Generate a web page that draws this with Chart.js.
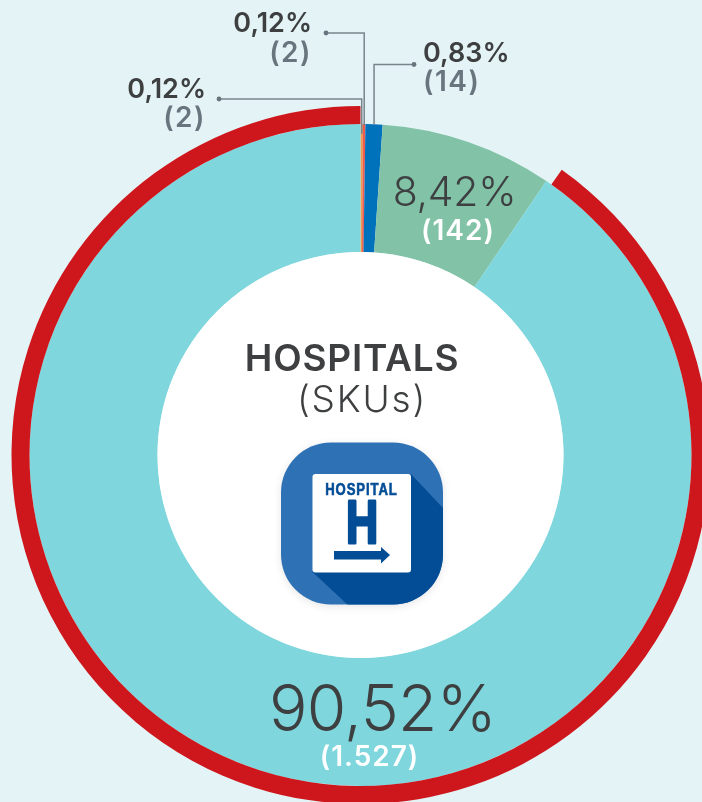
<!DOCTYPE html>
<html><head><meta charset="utf-8">
<style>html,body{margin:0;padding:0;background:#E4F3F5;overflow:hidden;width:702px;height:802px}canvas{display:block}</style>
<script src="https://cdn.jsdelivr.net/npm/chart.js@4"></script></head>
<body><canvas id="c" width="720" height="810"></canvas>
<script>
const categories=['a','b','c','d','e'];
const skus=[2,2,14,142,1527];
const sliceColors=['#F0984F','#EF5B4C','#0072BC','#82C3A8','#7FD7DD'];
const pctLabels=['0,12%','0,12%','0,83%','8,42%','90,52%'];
const countLabels=['(2)','(2)','(14)','(142)','(1.527)'];
const highlight=[165,1522];
const highlightColors=['rgba(0,0,0,0)','#CE171C'];
const title='HOSPITALS', subtitle='(SKUs)', iconWord='HOSPITAL', iconLetter='H';
const FONT='Inter, "Open Sans", sans-serif';
const DARK='#3D3F40', GREY='#68757E', LINE='#78858C', NAVY='#034D96';

function txt(ctx,s,x,y,font,color,align,spacing){
  ctx.font=font;ctx.fillStyle=color;ctx.textAlign=align;ctx.textBaseline='alphabetic';
  ctx.letterSpacing=(spacing||0)+'px';ctx.fillText(s,x,y);ctx.letterSpacing='0px';
}
function rr(ctx,x,y,w,h,r){ctx.beginPath();ctx.roundRect(x,y,w,h,r);}
const art={id:'art',
 afterDatasetsDraw(chart){
  const ctx=chart.ctx, arcs=chart.getDatasetMeta(1).data;
  const cx=arcs[0].x, cy=arcs[0].y, R=arcs[0].outerRadius, r0=arcs[0].innerRadius;
  ctx.save();
  ctx.fillStyle='#fff';ctx.beginPath();ctx.arc(cx,cy,r0,0,Math.PI*2);ctx.fill();
  const leader=(i,dotX,y,endY)=>{
    const a=(arcs[i].startAngle+arcs[i].endAngle)/2;
    const x=cx+R*Math.cos(a);
    ctx.strokeStyle=LINE;ctx.lineWidth=1.5;ctx.beginPath();
    ctx.moveTo(dotX,y);ctx.lineTo(x,y);ctx.lineTo(x,endY);ctx.stroke();
    ctx.fillStyle='#68757E';ctx.beginPath();ctx.arc(dotX,y,2.4,0,Math.PI*2);ctx.fill();
  };
  leader(0,219,99,134);
  leader(1,326,33,125);
  leader(2,414,64.5,125);
  const bold='600 27px '+FONT, cnt='600 28px '+FONT;
  txt(ctx,pctLabels[0],206,98,bold,DARK,'right',0);
  txt(ctx,countLabels[0],206,127,cnt,GREY,'right',1.5);
  txt(ctx,pctLabels[1],312,32,bold,DARK,'right',0);
  txt(ctx,countLabels[1],312,62,cnt,GREY,'right',1.5);
  txt(ctx,pctLabels[2],423,62,bold,DARK,'left',0);
  txt(ctx,countLabels[2],423,91,cnt,GREY,'left',1.5);
  txt(ctx,pctLabels[3],454.5,206,'300 41px '+FONT,DARK,'center',-0.3);
  txt(ctx,countLabels[3],458,240,'600 28px '+FONT,'#fff','center',1);
  txt(ctx,pctLabels[4],382.5,731,'300 64px '+FONT,DARK,'center',-0.6);
  txt(ctx,countLabels[4],369.5,766,'600 28px '+FONT,'#fff','center',1);
  txt(ctx,title,352,371,'600 37px '+FONT,DARK,'center',0.8);
  txt(ctx,subtitle,362,412,'300 37px '+FONT,DARK,'center',1.8);
  const X=281,Y=442.5,S=162;
  ctx.save();ctx.shadowColor='rgba(0,0,0,.10)';ctx.shadowBlur=8;ctx.shadowOffsetY=2;
  ctx.fillStyle='#2E72B5';rr(ctx,X,Y,S,S,50);ctx.fill();ctx.restore();
  ctx.save();rr(ctx,X,Y,S,S,50);ctx.clip();
  ctx.fillStyle=NAVY;ctx.beginPath();
  ctx.moveTo(411,474);ctx.lineTo(445,510);ctx.lineTo(445,606);ctx.lineTo(349,606);ctx.lineTo(312.5,572);ctx.closePath();ctx.fill();
  ctx.restore();
  ctx.fillStyle='#fff';rr(ctx,312.5,474,98.5,98.5,3);ctx.fill();
  ctx.save();ctx.translate(361.5,495);ctx.scale(0.82,1);
  txt(ctx,iconWord,0,0,'700 16px "Liberation Sans"',NAVY,'center',1.1);
  ctx.strokeStyle=NAVY;ctx.lineWidth=0.6;ctx.letterSpacing='1.1px';ctx.strokeText(iconWord,0,0);ctx.letterSpacing='0px';ctx.restore();
  ctx.save();ctx.translate(362,543.5);ctx.scale(0.72,1);
  txt(ctx,iconLetter,0,0,'700 62px "Liberation Sans"',NAVY,'center');
  ctx.strokeStyle=NAVY;ctx.lineWidth=3;ctx.lineJoin='round';ctx.strokeText(iconLetter,0,-1);ctx.restore();
  ctx.fillStyle=NAVY;ctx.beginPath();
  ctx.moveTo(334,551);ctx.lineTo(381,551);ctx.lineTo(381,547);ctx.lineTo(390,555);ctx.lineTo(381,563.5);ctx.lineTo(381,559.5);ctx.lineTo(334,559.5);ctx.closePath();ctx.fill();
  ctx.restore();
 }};
new Chart(document.getElementById('c'),{
 type:'doughnut',
 data:{labels:categories,datasets:[
  {data:highlight,backgroundColor:highlightColors,borderWidth:0,weight:18},
  {data:skus,backgroundColor:sliceColors,borderWidth:0,weight:128}
 ]},
 options:{responsive:false,animation:false,cutout:203,
  layout:{padding:{left:11.5,right:10.5,top:106,bottom:6}},
  plugins:{legend:{display:false},tooltip:{enabled:false}}},
 plugins:[art]
});
</script></body></html>
